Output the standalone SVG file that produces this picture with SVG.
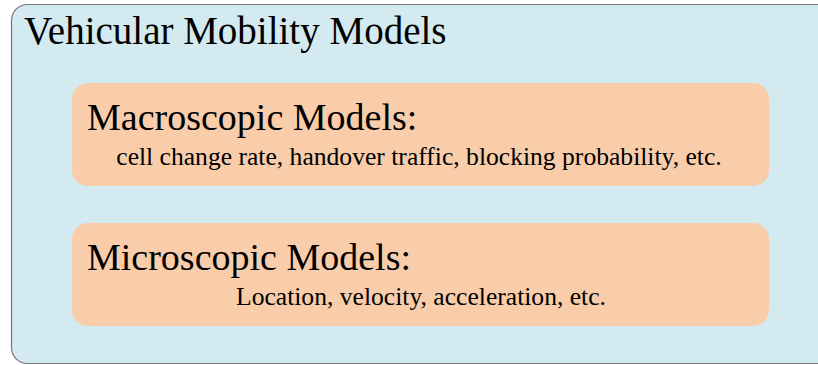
<svg xmlns="http://www.w3.org/2000/svg" width="818" height="365" viewBox="0 0 818 365">
<style>
.t{font-family:"Liberation Serif","Times New Roman",serif;fill:#000}
.h{font-size:38px}
.s{font-size:25.6px}
.box{fill:#F9CDAA}
</style>
<rect width="818" height="365" fill="#ffffff"/>
<g id="outer">
<rect x="11.5" y="4.5" width="830" height="359" rx="16" fill="#D2EAF0" stroke="#777" stroke-width="1.2"/>
<text class="t" x="24" y="44" font-size="39">Vehicular Mobility Models</text>
</g>
<g id="macro">
<rect class="box" x="72" y="83" width="697" height="103" rx="16"/>
<text class="t h" x="87" y="130">Macroscopic Models:</text>
<text class="t s" x="419" y="165" text-anchor="middle">cell change rate, handover traffic, blocking probability, etc.</text>
</g>
<g id="micro">
<rect class="box" x="72" y="223" width="697" height="103" rx="16"/>
<text class="t h" x="87" y="270">Microscopic Models:</text>
<text class="t s" x="421" y="305" text-anchor="middle">Location, velocity, acceleration, etc.</text>
</g>
<g id="connectors"></g>
</svg>
